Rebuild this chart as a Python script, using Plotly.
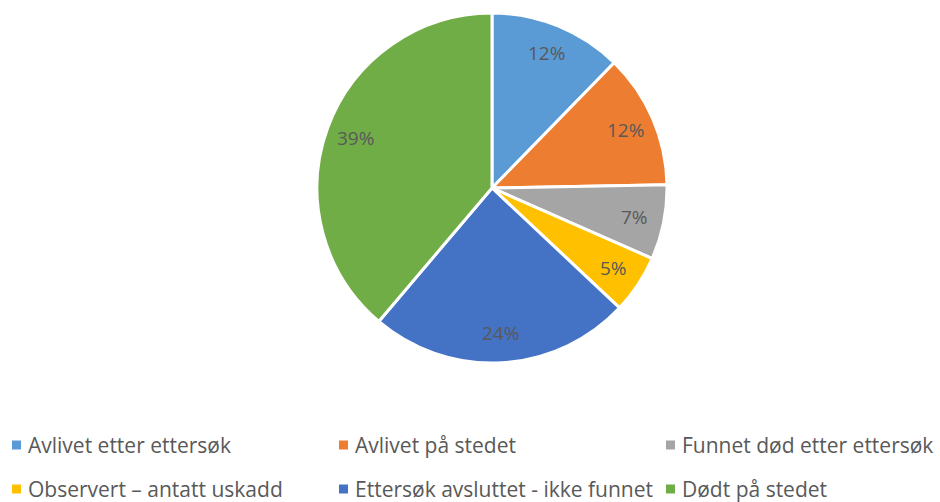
import math
import plotly.graph_objects as go

# andel av hendelser (prosent, lest av figuren)
labels = [
    "Avlivet etter ettersøk",
    "Avlivet på stedet",
    "Funnet død etter ettersøk",
    "Observert – antatt uskadd",
    "Ettersøk avsluttet - ikke funnet",
    "Dødt på stedet",
]
values = [12.3, 12.4, 6.9, 5.4, 24.2, 38.8]
colors = ["#5B9BD5", "#ED7D31", "#A5A5A5", "#FFC000", "#4472C4", "#70AD47"]

W, H = 940, 502
FONT = "Open Sans"
TXT = "#595959"

# pie-plassering i piksler
PCX, PCY, PR = 492, 188, 175

fig = go.Figure()

fig.add_trace(
    go.Pie(
        labels=labels,
        values=values,
        sort=False,
        direction="clockwise",
        rotation=0,
        marker=dict(colors=colors, line=dict(color="white", width=3)),
        textinfo="none",
        domain=dict(x=[(PCX - PR) / W, (PCX + PR) / W], y=[1 - (PCY + PR) / H, 1 - (PCY - PR) / H]),
        showlegend=False,
        hoverinfo="label+percent",
    )
)

# prosentetiketter nær ytterkanten (som Excel "best fit")
total = sum(values)
cum = 0
for v in values:
    frac = v / total
    mid = (cum + frac / 2) * 2 * math.pi
    cum += frac
    r = 0.83 * PR
    x = PCX + r * math.sin(mid)
    y = PCY - r * math.cos(mid)
    fig.add_annotation(
        x=x / W, y=1 - y / H,
        xref="paper", yref="paper",
        xanchor="center", yanchor="middle",
        text=f"{round(frac * 100)}%", showarrow=False,
        font=dict(family=FONT, size=19, color=TXT),
    )

# egen legende: 3 kolonner, 2 rader
col_x = [12, 339, 666]
row_y = [445, 489]
for i, (lab, col) in enumerate(zip(labels, colors)):
    cx = col_x[i % 3]
    cy = row_y[i // 3]
    fig.add_shape(
        type="rect",
        xref="paper", yref="paper",
        x0=cx / W, x1=(cx + 9) / W,
        y0=1 - (cy + 4.5) / H, y1=1 - (cy - 4.5) / H,
        fillcolor=col, line=dict(width=0),
    )
    fig.add_annotation(
        x=(cx + 15) / W, y=1 - cy / H,
        xref="paper", yref="paper",
        xanchor="left", yanchor="middle",
        text=lab, showarrow=False, borderpad=0,
        font=dict(family=FONT, size=21, color=TXT),
    )

fig.update_layout(
    width=W,
    height=H,
    margin=dict(l=0, r=0, t=0, b=0),
    paper_bgcolor="white",
    plot_bgcolor="white",
)

fig.write_html(
    "out.html",
    config={"displayModeBar": False},
    post_script="document.body.style.margin='0';",
)
